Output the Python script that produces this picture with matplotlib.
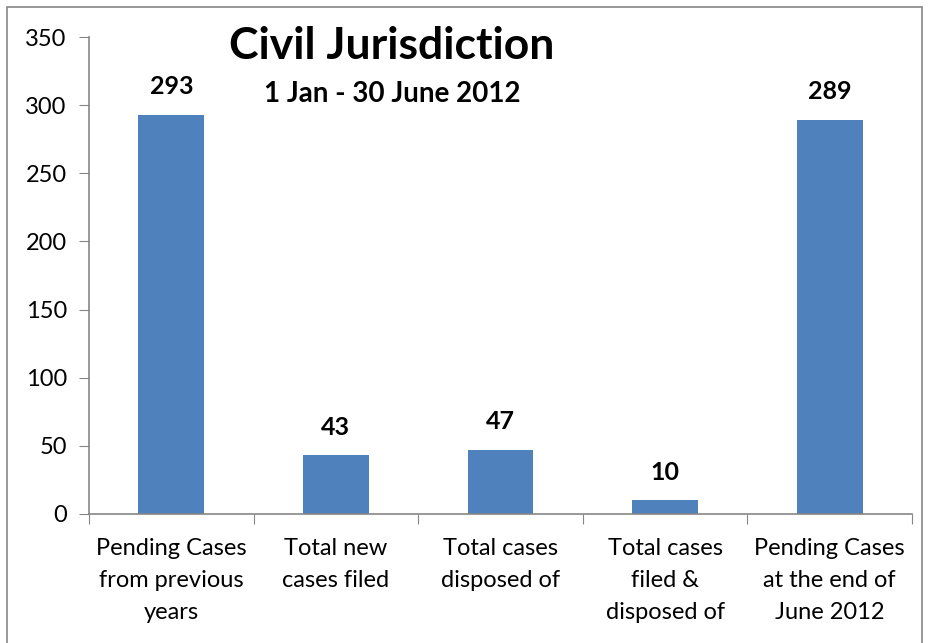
import matplotlib.pyplot as plt
from matplotlib.patches import Rectangle

categories = ["Pending Cases\nfrom previous\nyears", "Total new\ncases filed",
              "Total cases\ndisposed of", "Total cases\nfiled &\ndisposed of",
              "Pending Cases\nat the end of\nJune 2012"]
values = [293, 43, 47, 10, 289]

plt.rcParams['font.family'] = ['Lato', 'DejaVu Sans']

fig = plt.figure(figsize=(9.29, 6.43), dpi=100)
ax = fig.add_axes([89 / 929, 1 - 514 / 643, 823 / 929, 477 / 643])

# outer chart border
fig.patches.append(Rectangle((7 / 929, -0.05), 915 / 929, 1 - 7 / 643 + 0.05,
                             transform=fig.transFigure, fill=False,
                             edgecolor='#868686', linewidth=1.2))

x = list(range(len(values)))
bars = ax.bar(x, values, width=0.4, color='#4F81BD')
for b, v in zip(bars, values):
    ax.annotate(str(v), (b.get_x() + b.get_width() / 2, v), xytext=(0, 12),
                textcoords='offset points', ha='center', va='bottom',
                fontsize=18, fontweight='bold')

ax.set_xlim(-0.5, len(values) - 0.5)
ax.set_ylim(0, 350)
ax.set_yticks(range(0, 351, 50))
ax.set_xticks([i + 0.5 for i in range(-1, len(values))], minor=False)
ax.set_xticklabels([])
ax.set_xticks(x, minor=True)
ax.set_xticklabels(categories, minor=True, fontsize=17, linespacing=1.65)
ax.tick_params(axis='x', which='minor', length=0, pad=17.5)
ax.tick_params(axis='x', which='major', length=7, color='#868686', direction='out')
ax.tick_params(axis='y', length=7, color='#868686', labelsize=17, pad=9)

for s in ['top', 'right']:
    ax.spines[s].set_visible(False)
for s in ['left', 'bottom']:
    ax.spines[s].set_color('#868686')
    ax.spines[s].set_linewidth(1.2)

ax.text(0.368, 0.982, "Civil Jurisdiction", transform=ax.transAxes, ha='center',
        va='center', fontsize=32, fontweight='bold')
ax.text(0.369, 0.88, "1 Jan - 30 June 2012", transform=ax.transAxes, ha='center',
        va='center', fontsize=20, fontweight='bold')

fig.savefig('out.png', dpi=100)
